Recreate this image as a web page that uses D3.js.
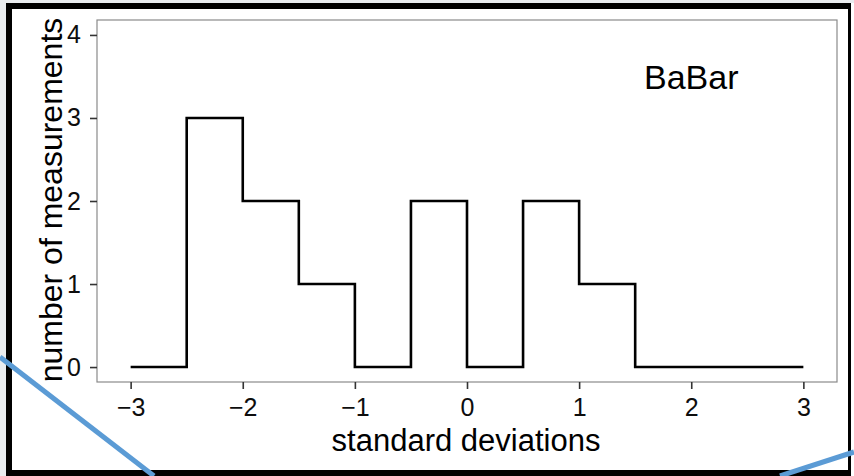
<!DOCTYPE html>
<html>
<head>
<meta charset="utf-8">
<script src="https://cdn.jsdelivr.net/npm/d3@7"></script>
<style>
  html, body { margin: 0; padding: 0; background: #ffffff; }
  svg { display: block; }
  text { font-family: "Liberation Sans", Arial, Helvetica, sans-serif; }
</style>
</head>
<body>
<svg id="chart" width="854" height="476"></svg>
<script>
// ---- data ----
const binEdges = [-3, -2.5, -2, -1.5, -1, -0.5, 0, 0.5, 1, 1.5, 2, 2.5, 3];
const counts   = [0, 3, 2, 1, 0, 2, 0, 2, 1, 0, 0, 0];
const xTicks = [-3, -2, -1, 0, 1, 2, 3];
const yTicks = [0, 1, 2, 3, 4];
const xDomain = [-3.3, 3.3];
const yDomain = [-0.18, 4.18];
const xTitle = "standard deviations";
const yTitle = "number of measurements";
const label = "BaBar";
const labelPos = [2, 3.5];

// ---- layout ----
const W = 854, H = 476;
const panel = { left: 97, right: 837, top: 20, bottom: 382 };

const svg = d3.select("#chart");

// slide-like frame
svg.append("rect").attr("x", 0).attr("y", 0).attr("width", W).attr("height", H).attr("fill", "#e9ecef");
svg.append("rect").attr("x", 6).attr("y", 3).attr("width", W - 6).attr("height", H - 3).attr("fill", "#ffffff");
svg.append("rect").attr("x", 6).attr("y", 3).attr("width", 6).attr("height", H - 3).attr("fill", "#000");
svg.append("rect").attr("x", 6).attr("y", 3).attr("width", 845).attr("height", 6).attr("fill", "#000");
svg.append("rect").attr("x", 848).attr("y", 3).attr("width", 3).attr("height", H - 3).attr("fill", "#000");
svg.append("rect").attr("x", 6).attr("y", 470).attr("width", 845).attr("height", 6).attr("fill", "#000");

const x = d3.scaleLinear().domain(xDomain).range([panel.left, panel.right]);
const y = d3.scaleLinear().domain(yDomain).range([panel.bottom, panel.top]);

// panel border
svg.append("rect")
  .attr("x", panel.left).attr("y", panel.top)
  .attr("width", panel.right - panel.left).attr("height", panel.bottom - panel.top)
  .attr("fill", "#fff").attr("stroke", "#8a8a8a").attr("stroke-width", 1.2);

// axes
const xAxis = svg.append("g")
  .attr("transform", `translate(0,${panel.bottom})`)
  .call(d3.axisBottom(x).tickValues(xTicks).tickSize(7).tickPadding(9).tickFormat(d3.format("d")));
const yAxis = svg.append("g")
  .attr("transform", `translate(${panel.left},0)`)
  .call(d3.axisLeft(y).tickValues(yTicks).tickSize(7).tickPadding(9).tickFormat(d3.format("d")));

[xAxis, yAxis].forEach(g => {
  g.select(".domain").remove();
  g.selectAll(".tick line").attr("stroke", "#333").attr("stroke-width", 1.6);
  g.selectAll(".tick text")
    .attr("fill", "#0d0d0d")
    .style("font-size", "25px")
    .style("font-family", "'Liberation Sans', Arial, Helvetica, sans-serif");
});

// step histogram
const pts = binEdges.map((e, i) => [e, i < counts.length ? counts[i] : counts[counts.length - 1]]);
const line = d3.line()
  .x(d => x(d[0]))
  .y(d => y(d[1]))
  .curve(d3.curveStepAfter);
svg.append("path")
  .datum(pts)
  .attr("d", line)
  .attr("fill", "none")
  .attr("stroke", "#000")
  .attr("stroke-width", 2.6)
  .attr("stroke-linejoin", "miter");

// label
svg.append("text")
  .attr("x", x(labelPos[0]))
  .attr("y", y(labelPos[1]) + 13)
  .attr("text-anchor", "middle")
  .attr("fill", "#000")
  .style("font-size", "34px")
  .text(label);

// axis titles
svg.append("text")
  .attr("x", (panel.left + panel.right) / 2 - 1)
  .attr("y", 451)
  .attr("text-anchor", "middle")
  .attr("fill", "#000")
  .style("font-size", "31px")
  .text(xTitle);

svg.append("text")
  .attr("transform", `translate(62,${(panel.top + panel.bottom) / 2 - 1}) rotate(-90)`)
  .attr("text-anchor", "middle")
  .attr("fill", "#000")
  .style("font-size", "32px")
  .text(yTitle);

// overlay blue lines (from slide)
svg.append("line").attr("x1", 0).attr("y1", 357).attr("x2", 154).attr("y2", 476)
  .attr("stroke", "#5b9bd5").attr("stroke-width", 5);
svg.append("line").attr("x1", 780).attr("y1", 476).attr("x2", 854).attr("y2", 452)
  .attr("stroke", "#5b9bd5").attr("stroke-width", 5);
</script>
</body>
</html>
